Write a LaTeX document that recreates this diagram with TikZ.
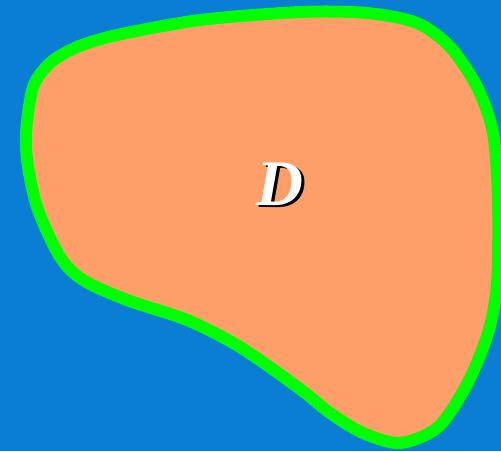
\documentclass[tikz,border=0pt]{standalone}
\usepackage{fontspec}
\setmainfont{Liberation Serif}
\usetikzlibrary{positioning}
\definecolor{regSea}{HTML}{0A7DD4}
\definecolor{regFill}{HTML}{FE9F6A}
\definecolor{regEdge}{HTML}{00FF00}
\tikzset{
  regionfill/.style={fill=regFill, draw=regEdge, line width=0.24cm, line join=round},
  regionlab/.style={font=\fontsize{37}{40}\selectfont\bfseries\itshape, inner sep=0pt}
}

\begin{document}
\begin{tikzpicture}[x=0.02cm, y=-0.02cm]
\fill[regSea] (0,0) rectangle (501,451);
\useasboundingbox (0,0) rectangle (501,451);
\draw[regionfill] plot[smooth cycle, tension=0.5] coordinates {
  (26,133) (33,87) (50,63) (77,47) (117,35) (200,20) (300,12) (367,13)
  (417,23) (450,47) (477,87) (493,133) (498,200) (497,283) (488,333)
  (467,384) (438,427) (400,443) (363,433) (330,413) (300,389) (240,347)
  (187,320) (127,300) (83,280) (60,257) (38,210) (28,167)};
\node[regionlab, text=black] (dshadow) at (282.5,186.5) {D};
\node[regionlab, text=white] (dlab) at (280,184) {D};
\end{tikzpicture}
\end{document}
